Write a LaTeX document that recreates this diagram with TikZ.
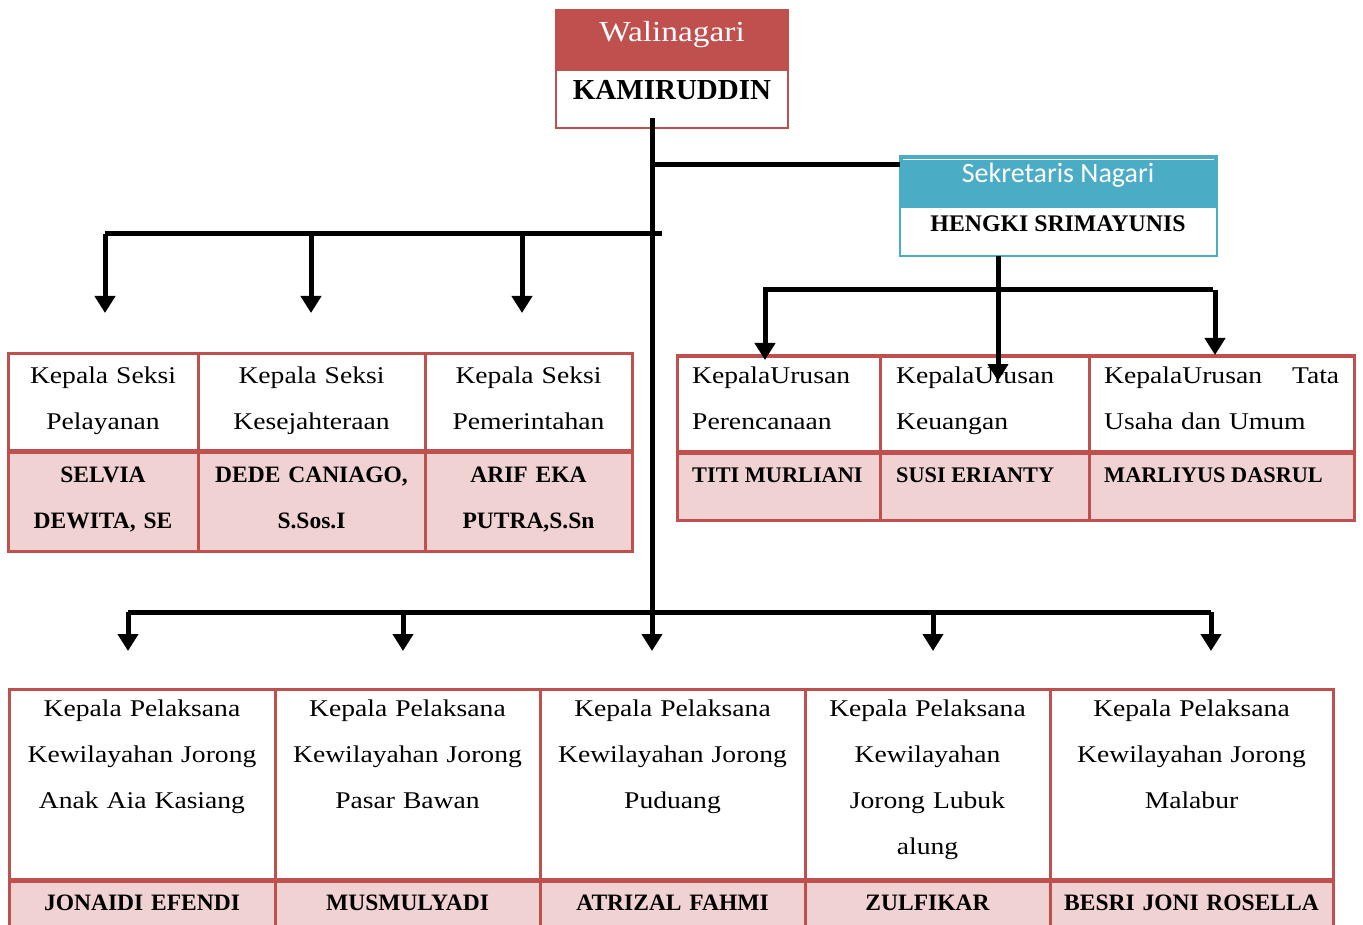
\documentclass[tikz,border=0pt]{standalone}
\usepackage{fontspec}
\setmainfont{Liberation Serif}[FakeStretch=1.15, BoldFeatures={FakeStretch=1.0}]
\newfontfamily\calibrifont{Carlito}
\usetikzlibrary{arrows.meta}

\definecolor{headred}{HTML}{C0504D}
\definecolor{headblue}{HTML}{4BACC6}
\definecolor{cellpink}{HTML}{F0D2D2}

\tikzset{
  link/.style={line width=5pt},
  down/.style={link, -{Triangle[width=20pt,length=17pt]}},
  cellgrid/.style={draw=headred, line width=3pt},
  seksi/.style={anchor=base, inner sep=0pt, align=center, text width=#1,
    font=\fontsize{24}{46}\selectfont},
  nama/.style={anchor=base, inner sep=0pt, align=center, text width=#1,
    font=\bfseries\fontsize{23.5}{46}\selectfont},
  urusan/.style={anchor=base west, inner sep=0pt, align=left, text width=#1,
    font=\fontsize{24}{46}\selectfont},
  namakiri/.style={anchor=base west, inner sep=0pt,
    font=\bfseries\fontsize{22.3}{46}\selectfont}
}

\begin{document}
\begin{tikzpicture}[x=1pt,y=-1pt]
\useasboundingbox (0,0) rectangle (1363,925);

% Walinagari
\draw[draw=headred, line width=2.5pt, fill=headred] (556,10) rectangle (788,70);
\draw[draw=headred, line width=2.5pt] (556,70) rectangle (788,128);
\node[anchor=base, text=white, font=\fontsize{29}{30}\selectfont] (wali) at (672,42) {Walinagari};
\node[anchor=base, font=\bfseries\fontsize{29}{30}\selectfont] (kami) at (672,100) {KAMIRUDDIN};

% Sekretaris Nagari
\draw[draw=headblue, line width=2.5pt, fill=headblue] (900,156) rectangle (1217,207);
\draw[white, line width=1pt] (903,159.5) -- (1214,159.5);
\draw[draw=headblue, line width=2.5pt] (900,207) rectangle (1217,256);
\node[anchor=base, text=white, font=\calibrifont\fontsize{28}{30}\selectfont] (sek) at (1058,183) {Sekretaris Nagari};
\node[anchor=base, font=\bfseries\fontsize{23.8}{30}\selectfont] (hengki) at (1058,232) {HENGKI SRIMAYUNIS};

% Kepala Seksi
\fill[cellpink] (8,451) rectangle (632,551);
\draw[cellgrid] (8,354) rectangle (632,551);
\foreach \x in {198,425} \draw[cellgrid] (\x,354) -- (\x,551);
\draw[cellgrid, line width=5pt] (8,451) -- (632,451);
\node[seksi=185] (pelayanan) at (103,383) {Kepala Seksi\\Pelayanan};
\node[seksi=220] (kesejahteraan) at (311.5,383) {Kepala Seksi\\Kesejahteraan};
\node[seksi=200] (pemerintahan) at (528.5,383) {Kepala Seksi\\Pemerintahan};
\node[nama=185] (selvia) at (103,482) {SELVIA\\DEWITA, SE};
\node[nama=220] (dede) at (311.5,482) {DEDE CANIAGO,\\S.Sos.I};
\node[nama=200] (arif) at (528.5,482) {ARIF EKA\\PUTRA,S.Sn};

% Kepala Urusan
\fill[cellpink] (677,452) rectangle (1354,520);
\draw[cellgrid] (677,356) rectangle (1354,520);
\foreach \x in {880,1089} \draw[cellgrid] (\x,356) -- (\x,520);
\draw[cellgrid, line width=5pt] (677,452) -- (1354,452);
\node[urusan=185] (perencanaan) at (692,383) {KepalaUrusan\\Perencanaan};
\node[urusan=185] (keuangan) at (896,383) {KepalaUrusan\\Keuangan};
\node[urusan=235] (tatausaha) at (1104,383) {KepalaUrusan\hfill Tata\\Usaha dan Umum};
\node[namakiri] (titi) at (692,482) {TITI MURLIANI};
\node[namakiri] (susi) at (896,482) {SUSI ERIANTY};
\node[namakiri] (marliyus) at (1104,482) {MARLIYUS DASRUL};

% Kepala Pelaksana Kewilayahan
\fill[cellpink] (9,880) rectangle (1333,925);
\draw[cellgrid] (9,925) -- (9,689) -- (1333,689) -- (1333,925);
\foreach \x in {275,540,805,1050} \draw[cellgrid] (\x,689) -- (\x,925);
\draw[cellgrid, line width=5pt] (9,880) -- (1333,880);
\node[seksi=250] (anakaia) at (142,716) {Kepala Pelaksana\\Kewilayahan Jorong\\Anak Aia Kasiang};
\node[seksi=250] (pasarbawan) at (407.5,716) {Kepala Pelaksana\\Kewilayahan Jorong\\Pasar Bawan};
\node[seksi=250] (puduang) at (672.5,716) {Kepala Pelaksana\\Kewilayahan Jorong\\Puduang};
\node[seksi=235] (lubukalung) at (927.5,716) {Kepala Pelaksana\\Kewilayahan\\Jorong Lubuk\\alung};
\node[seksi=270] (malabur) at (1191.5,716) {Kepala Pelaksana\\Kewilayahan Jorong\\Malabur};
\node[nama=250] (jonaidi) at (142,910) {JONAIDI EFENDI};
\node[nama=250] (musmulyadi) at (407.5,910) {MUSMULYADI};
\node[nama=250] (atrizal) at (672.5,910) {ATRIZAL FAHMI};
\node[nama=235] (zulfikar) at (927.5,910) {ZULFIKAR};
\node[nama=270] (besri) at (1191.5,910) {BESRI JONI ROSELLA};

% Garis komando
\coordinate (trunk) at (652,118);
\coordinate (trunkend) at (652,651);
\coordinate (sekjoint) at (652,165);
\coordinate (sekin) at (900,165);
\coordinate (seksiL) at (105,234);
\coordinate (seksiR) at (662,234);
\coordinate (jorongL) at (128,612);
\coordinate (jorongR) at (1211,612);
\coordinate (urusanL) at (763,290);
\coordinate (urusanR) at (1213,290);

\draw[down] (trunk) -- (trunkend);
\draw[link] (sekjoint) -- (sekin);
\draw[link] (seksiL) -- (seksiR);
\draw[link] (jorongL) -- (jorongR);
\draw[link] (urusanL) -- (urusanR);
\foreach \x in {105,311,522} \draw[down] (\x,234) -- (\x,313);
\foreach \x in {128,403,933,1211} \draw[down] (\x,612) -- (\x,651);
\draw[down] (998,256) -- (998,381);
\draw[down] (765,290) -- (765,360);
\draw[down] (1215,290) -- (1215,355);
\end{tikzpicture}
\end{document}
